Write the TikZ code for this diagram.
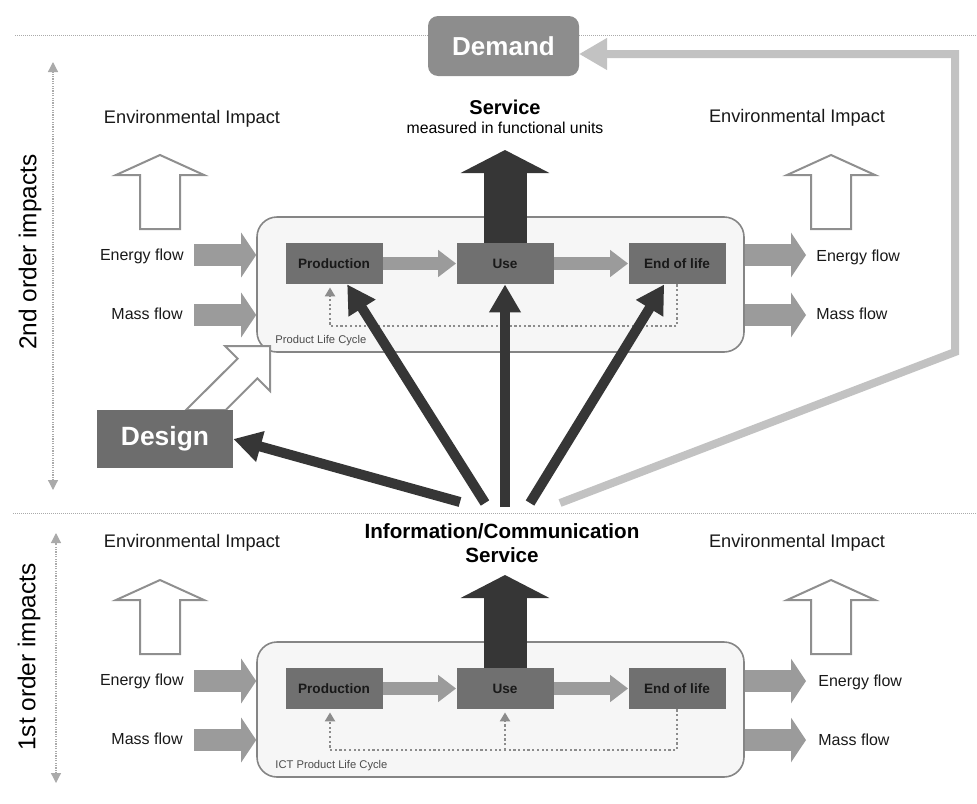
\documentclass[tikz,border=0pt]{standalone}
\usepackage{fontspec}
\setmainfont{Liberation Sans}
\usetikzlibrary{arrows.meta,calc}
\definecolor{flowgray}{HTML}{9B9B9B}
\definecolor{procgray}{HTML}{707070}
\definecolor{darkarrow}{HTML}{363636}
\definecolor{lightline}{HTML}{C2C2C2}
\definecolor{edgegray}{HTML}{858585}
\definecolor{boxfill}{HTML}{F6F6F6}
\definecolor{demandfill}{HTML}{8D8D8D}
\definecolor{designfill}{HTML}{6D6D6D}
\definecolor{hollowgray}{HTML}{8F8F8F}
\definecolor{loopgray}{HTML}{8C8C8C}
\definecolor{sepgray}{HTML}{AAAAAA}
\newcommand{\hollowup}[4]{\draw[hollow] (#1-20,#2) -- (#1-20,#3) -- (#1-44,#3) -- (#1,#4) -- (#1+44,#3) -- (#1+20,#3) -- (#1+20,#2) -- cycle;}
\begin{document}
\begin{tikzpicture}[x=0.5pt,y=-0.5pt,
  lbl/.style={font=\fontsize{9.1}{11}\selectfont, inner sep=0, text=black!90},
  flowlbl/.style={font=\fontsize{8}{10}\selectfont, inner sep=0, text=black!90},
  sidelbl/.style={font=\fontsize{12.2}{14}\selectfont, inner sep=0, rotate=90},
  procbox/.style={fill=procgray, minimum width=48.5pt, minimum height=20.5pt, inner sep=0, font=\bfseries\fontsize{6.8}{8}\selectfont, text=black!90},
  plcbox/.style={draw=edgegray, fill=boxfill, line width=0.8pt, rounded corners=10pt, minimum width=243.5pt, minimum height=67.5pt, inner sep=0},
  plclbl/.style={font=\fontsize{5.6}{7}\selectfont, inner sep=0, text=black!70},
  flow/.style={draw=flowgray, line width=11pt, -{Triangle[length=7.5pt,width=22pt]}},
  innerarrow/.style={draw=flowgray, line width=6.5pt, -{Triangle[length=9pt,width=13pt]}},
  service/.style={draw=darkarrow, line width=21.5pt, -{Triangle[length=11.5pt,width=44pt]}},
  ict/.style={draw=darkarrow, line width=5pt, -{Triangle[length=14pt,width=15pt]}},
  demandline/.style={draw=lightline, line width=4pt, -{Triangle[length=14pt,width=15pt]}},
  loopline/.style={draw=loopgray, line width=1.2pt, dash pattern=on 1.1pt off 1.25pt, -{Triangle[length=4.5pt,width=5pt]}, shorten >=1.5pt},
  sep/.style={draw=sepgray, line width=0.5pt, dash pattern=on 0.5pt off 0.5pt},
  side/.style={draw=sepgray, line width=0.6pt, dash pattern=on 0.6pt off 0.6pt, {Triangle[length=5pt,width=5pt]}-{Triangle[length=5pt,width=5pt]}},
  hollow/.style={draw=hollowgray, fill=white, line width=1pt}
]
\useasboundingbox (0,0) rectangle (977,803);

% separators
\coordinate (sepTopL) at (15,35);
\coordinate (sepTopR) at (977,35);
\coordinate (sepMidL) at (13,513);
\coordinate (sepMidR) at (977,513);
\draw[sep] (sepTopL) -- (sepTopR);
\draw[sep] (sepMidL) -- (sepMidR);

% side arrows and labels
\coordinate (side2t) at (53,62);
\coordinate (side2b) at (53,490);
\coordinate (side1t) at (56,533);
\coordinate (side1b) at (56,783);
\draw[side] (side2b) -- (side2t);
\draw[side] (side1b) -- (side1t);
\node[sidelbl] (lbl2nd) at (30,252) {2nd order impacts};
\node[sidelbl] (lbl1st) at (29,657) {1st order impacts};

% environmental impact labels
\node[lbl] (envL1) at (192,119) {Environmental Impact};
\node[lbl] (envR1) at (797,118) {Environmental Impact};
\node[lbl] (envL2) at (192,543) {Environmental Impact};
\node[lbl] (envR2) at (797,543) {Environmental Impact};

% hollow arrows
\hollowup{160}{229}{175}{155}
\hollowup{831}{229}{175}{155}
\hollowup{160}{654}{600}{580}
\hollowup{831}{654}{600}{580}

% service texts
\node[inner sep=0, font=\bfseries\fontsize{10}{12}\selectfont] (servT) at (505,107) {Service};
\node[inner sep=0, font=\fontsize{7.9}{9}\selectfont] (servSub) at (505,128) {measured in functional units};
\node[inner sep=0, align=center, font=\bfseries\fontsize{10.3}{12}\selectfont] (ictT) at (502,543) {Information/Communication\\Service};

% life cycle boxes
\node[plcbox] (plc1) at (500.5,284.5) {};
\node[plcbox] (plc2) at (500.5,709.5) {};
\node[plclbl, anchor=west] (plc1lbl) at (275,341) {Product Life Cycle};
\node[plclbl, anchor=west] (plc2lbl) at (275,766) {ICT Product Life Cycle};

% process boxes
\node[procbox] (prod1) at (334,263.5) {Production};
\node[procbox] (use1) at (505,263.5) {Use};
\node[procbox] (eol1) at (677,263.5) {End of life};
\node[procbox] (prod2) at (334,688.5) {Production};
\node[procbox] (use2) at (505,688.5) {Use};
\node[procbox] (eol2) at (677,688.5) {End of life};

\draw[innerarrow] (prod1) -- (use1);
\draw[innerarrow] (use1) -- (eol1);
\draw[innerarrow] (prod2) -- (use2);
\draw[innerarrow] (use2) -- (eol2);

% dotted loops
\coordinate (lp1) at (330,326);
\coordinate (lp2) at (330,750);
\draw[loopline] (eol1.south) |- (lp1) -- (lp1 |- prod1.south);
\draw[loopline] (eol2.south) |- (lp2) -- (lp2 |- prod2.south);
\draw[loopline] (use2.south |- lp2) -- (use2.south);

% flow arrows in/out
\coordinate (efi1) at (194,255);
\coordinate (mfi1) at (194,315);
\coordinate (efo1) at (806,255);
\coordinate (mfo1) at (806,315);
\coordinate (efi2) at (194,681);
\coordinate (mfi2) at (194,740);
\coordinate (efo2) at (806,681);
\coordinate (mfo2) at (806,740);
\draw[flow] (efi1) -- (efi1 -| plc1.west);
\draw[flow] (mfi1) -- (mfi1 -| plc1.west);
\draw[flow] (efo1 -| plc1.east) -- (efo1);
\draw[flow] (mfo1 -| plc1.east) -- (mfo1);
\draw[flow] (efi2) -- (efi2 -| plc2.west);
\draw[flow] (mfi2) -- (mfi2 -| plc2.west);
\draw[flow] (efo2 -| plc2.east) -- (efo2);
\draw[flow] (mfo2 -| plc2.east) -- (mfo2);

\node[flowlbl, anchor=east] (efL1) at (184,256) {Energy flow};
\node[flowlbl, anchor=east] (mfL1) at (183,314) {Mass flow};
\node[flowlbl, anchor=west] (efR1) at (816,257) {Energy flow};
\node[flowlbl, anchor=west] (mfR1) at (816,314) {Mass flow};
\node[flowlbl, anchor=east] (efL2) at (184,681) {Energy flow};
\node[flowlbl, anchor=east] (mfL2) at (183,739) {Mass flow};
\node[flowlbl, anchor=west] (efR2) at (818,682) {Energy flow};
\node[flowlbl, anchor=west] (mfR2) at (818,740) {Mass flow};

% service arrows
\coordinate (servTip1) at (505,150);
\coordinate (servTip2) at (505,575);
\draw[service] (use1.north) -- (servTip1);
\draw[service] (use2.north) -- (servTip2);

% design hollow arrow
\draw[hollow] (186,410) -- (237.6,358.6) -- (225,346) -- (270,346) -- (270,391) -- (257.4,378.4) -- (225.8,410) -- cycle;

% design box
\node[fill=designfill, minimum width=68pt, minimum height=29pt, inner sep=0, text=white, font=\bfseries\fontsize{13.2}{15}\selectfont] (design) at (165,439) {Design};

% ICT influence arrows
\coordinate (s1) at (460,502);
\coordinate (s2) at (485,503);
\coordinate (s3) at (505,507);
\coordinate (s4) at (530,503);
\coordinate (s5) at (560,503);
\draw[ict] (s1) -- (design.east);
\draw[ict] (s2) -- (prod1);
\draw[ict] (s3) -- (use1);
\draw[ict] (s4) -- (eol1);

% demand feedback
\coordinate (dk1) at (955,352);
\coordinate (dk2) at (955,54);
\draw[demandline, line join=miter] (s5) -- (dk1) -- (dk2) -- (dk2 -| 579,0);
\node[fill=demandfill, rounded corners=5pt, minimum width=75.5pt, minimum height=30pt, inner sep=0, text=white, font=\bfseries\fontsize{13}{15}\selectfont] (demand) at (503.5,46) {Demand};
\end{tikzpicture}
\end{document}
